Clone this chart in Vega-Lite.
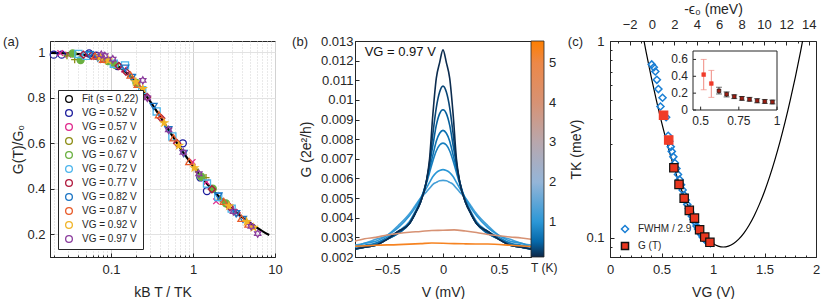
{
"$schema": "https://vega.github.io/schema/vega-lite/v6.json",
"padding": {"left": 2, "top": 1, "right": 0, "bottom": 0},
"spacing": 8,
"config": {
 "font": "Liberation Sans",
 "view": {"stroke": "#262626", "strokeWidth": 1},
 "axis": {"labelFontSize": 13, "titleFontSize": 14, "titleFontWeight": "normal", "labelColor": "#262626", "titleColor": "#262626", "domainColor": "#262626", "tickColor": "#262626", "labelFlush": false, "labelOverlap": false, "tickSize": -4, "labelPadding": 10, "titlePadding": 7, "grid": false, "tickCount": 100},
 "legend": {"labelFont": "Liberation Sans", "titleFont": "Liberation Sans", "labelColor": "#262626", "titleColor": "#262626"}
},
"datasets": {
 "fitA": [
  {"x":0.018,"g":0.998},{"x":0.03,"g":0.9956},{"x":0.05,"g":0.988},{"x":0.07,"g":0.977},{"x":0.1,"g":0.957},{"x":0.15,"g":0.914},{"x":0.2,"g":0.869},{"x":0.3,"g":0.785},{"x":0.4,"g":0.716},{"x":0.5,"g":0.661},{"x":0.7,"g":0.579},{"x":1,"g":0.5},{"x":1.5,"g":0.42},{"x":2,"g":0.371},{"x":3,"g":0.311},{"x":4,"g":0.274},{"x":5,"g":0.249},{"x":6,"g":0.229},{"x":7,"g":0.214},{"x":8.5,"g":0.197}
 ],
 "ptsA": [
  {"x":0.020,"g":0.99,"s":"VG = 0.52 V"},{"x":0.025,"g":0.99,"s":"VG = 0.52 V"},{"x":0.054,"g":0.995,"s":"VG = 0.52 V"},{"x":0.066,"g":0.985,"s":"VG = 0.52 V"},{"x":0.12,"g":0.94,"s":"VG = 0.52 V"},{"x":0.75,"g":0.60,"s":"VG = 0.52 V"},{"x":1.23,"g":0.45,"s":"VG = 0.52 V"},{"x":1.48,"g":0.39,"s":"VG = 0.52 V"},
  {"x":0.024,"g":0.997,"s":"VG = 0.57 V"},{"x":0.030,"g":0.99,"s":"VG = 0.57 V"},{"x":0.065,"g":0.98,"s":"VG = 0.57 V"},{"x":0.079,"g":0.965,"s":"VG = 0.57 V"},{"x":0.144,"g":0.925,"s":"VG = 0.57 V"},{"x":0.99,"g":0.518,"s":"VG = 0.57 V"},{"x":1.46,"g":0.43,"s":"VG = 0.57 V"},{"x":1.91,"g":0.345,"s":"VG = 0.57 V"},
  {"x":0.029,"g":0.985,"s":"VG = 0.62 V"},{"x":0.036,"g":0.968,"s":"VG = 0.62 V"},{"x":0.078,"g":0.972,"s":"VG = 0.62 V"},{"x":0.096,"g":0.96,"s":"VG = 0.62 V"},{"x":0.174,"g":0.893,"s":"VG = 0.62 V"},{"x":1.07,"g":0.486,"s":"VG = 0.62 V"},{"x":1.44,"g":0.449,"s":"VG = 0.62 V"},{"x":2.15,"g":0.355,"s":"VG = 0.62 V"},
  {"x":0.034,"g":0.995,"s":"VG = 0.67 V"},{"x":0.0425,"g":0.966,"s":"VG = 0.67 V"},{"x":0.092,"g":0.962,"s":"VG = 0.67 V"},{"x":0.112,"g":0.945,"s":"VG = 0.67 V"},{"x":0.204,"g":0.866,"s":"VG = 0.67 V"},{"x":1.26,"g":0.453,"s":"VG = 0.67 V"},{"x":1.74,"g":0.40,"s":"VG = 0.67 V"},{"x":2.52,"g":0.336,"s":"VG = 0.67 V"},
  {"x":0.040,"g":0.993,"s":"VG = 0.72 V"},{"x":0.050,"g":0.985,"s":"VG = 0.72 V"},{"x":0.108,"g":0.95,"s":"VG = 0.72 V"},{"x":0.148,"g":0.943,"s":"VG = 0.72 V"},{"x":0.24,"g":0.834,"s":"VG = 0.72 V"},{"x":0.36,"g":0.74,"s":"VG = 0.72 V"},{"x":0.56,"g":0.63,"s":"VG = 0.72 V"},{"x":1.48,"g":0.423,"s":"VG = 0.72 V"},{"x":2.03,"g":0.364,"s":"VG = 0.72 V"},{"x":2.96,"g":0.313,"s":"VG = 0.72 V"},
  {"x":0.046,"g":0.99,"s":"VG = 0.77 V"},{"x":0.0575,"g":0.985,"s":"VG = 0.77 V"},{"x":0.124,"g":0.94,"s":"VG = 0.77 V"},{"x":0.152,"g":0.915,"s":"VG = 0.77 V"},{"x":0.276,"g":0.804,"s":"VG = 0.77 V"},{"x":0.41,"g":0.71,"s":"VG = 0.77 V"},{"x":0.64,"g":0.60,"s":"VG = 0.77 V"},{"x":1.70,"g":0.398,"s":"VG = 0.77 V"},{"x":2.81,"g":0.32,"s":"VG = 0.77 V"},{"x":3.40,"g":0.294,"s":"VG = 0.77 V"},
  {"x":0.055,"g":0.99,"s":"VG = 0.82 V"},{"x":0.069,"g":0.975,"s":"VG = 0.82 V"},{"x":0.149,"g":0.93,"s":"VG = 0.82 V"},{"x":0.18,"g":0.89,"s":"VG = 0.82 V"},{"x":0.33,"g":0.762,"s":"VG = 0.82 V"},{"x":0.50,"g":0.66,"s":"VG = 0.82 V"},{"x":0.77,"g":0.555,"s":"VG = 0.82 V"},{"x":2.04,"g":0.368,"s":"VG = 0.82 V"},{"x":3.36,"g":0.29,"s":"VG = 0.82 V"},{"x":4.07,"g":0.265,"s":"VG = 0.82 V"},
  {"x":0.064,"g":0.985,"s":"VG = 0.87 V"},{"x":0.080,"g":0.97,"s":"VG = 0.87 V"},{"x":0.173,"g":0.9,"s":"VG = 0.87 V"},{"x":0.211,"g":0.86,"s":"VG = 0.87 V"},{"x":0.384,"g":0.726,"s":"VG = 0.87 V"},{"x":0.58,"g":0.624,"s":"VG = 0.87 V"},{"x":0.90,"g":0.52,"s":"VG = 0.87 V"},{"x":2.37,"g":0.345,"s":"VG = 0.87 V"},{"x":3.90,"g":0.27,"s":"VG = 0.87 V"},{"x":4.74,"g":0.245,"s":"VG = 0.87 V"},
  {"x":0.074,"g":0.98,"s":"VG = 0.92 V"},{"x":0.0925,"g":0.965,"s":"VG = 0.92 V"},{"x":0.20,"g":0.87,"s":"VG = 0.92 V"},{"x":0.244,"g":0.84,"s":"VG = 0.92 V"},{"x":0.444,"g":0.69,"s":"VG = 0.92 V"},{"x":0.67,"g":0.59,"s":"VG = 0.92 V"},{"x":1.04,"g":0.492,"s":"VG = 0.92 V"},{"x":2.74,"g":0.324,"s":"VG = 0.92 V"},{"x":4.51,"g":0.255,"s":"VG = 0.92 V"},{"x":5.48,"g":0.23,"s":"VG = 0.92 V"},
  {"x":0.076,"g":0.99,"s":"VG = 0.97 V"},{"x":0.084,"g":0.985,"s":"VG = 0.97 V"},{"x":0.105,"g":0.97,"s":"VG = 0.97 V"},{"x":0.244,"g":0.877,"s":"VG = 0.97 V"},{"x":0.277,"g":0.80,"s":"VG = 0.97 V"},{"x":0.504,"g":0.659,"s":"VG = 0.97 V"},{"x":0.76,"g":0.56,"s":"VG = 0.97 V"},{"x":1.18,"g":0.466,"s":"VG = 0.97 V"},{"x":3.11,"g":0.30,"s":"VG = 0.97 V"},{"x":5.12,"g":0.235,"s":"VG = 0.97 V"},{"x":6.15,"g":0.203,"s":"VG = 0.97 V"}
 ],
 "curvesB": [
  {"V":-0.79,"G":0.0026,"T":1.25},{"V":-0.7,"G":0.0027,"T":1.25},{"V":-0.6,"G":0.0029,"T":1.25},{"V":-0.5,"G":0.0031,"T":1.25},{"V":-0.4,"G":0.0036,"T":1.25},{"V":-0.3,"G":0.0042,"T":1.25},{"V":-0.25,"G":0.0046,"T":1.25},{"V":-0.2,"G":0.0050,"T":1.25},{"V":-0.15,"G":0.0053,"T":1.25},{"V":-0.12,"G":0.0055,"T":1.25},{"V":-0.09,"G":0.0057,"T":1.25},{"V":-0.06,"G":0.0058,"T":1.25},{"V":-0.03,"G":0.00588,"T":1.25},{"V":0,"G":0.0059,"T":1.25},{"V":0.03,"G":0.00588,"T":1.25},{"V":0.06,"G":0.0058,"T":1.25},{"V":0.09,"G":0.0057,"T":1.25},{"V":0.12,"G":0.0055,"T":1.25},{"V":0.15,"G":0.0053,"T":1.25},{"V":0.2,"G":0.0050,"T":1.25},{"V":0.25,"G":0.0046,"T":1.25},{"V":0.3,"G":0.0042,"T":1.25},{"V":0.4,"G":0.0036,"T":1.25},{"V":0.5,"G":0.0031,"T":1.25},{"V":0.6,"G":0.0029,"T":1.25},{"V":0.7,"G":0.0027,"T":1.25},{"V":0.79,"G":0.0026,"T":1.25},
  {"V":-0.79,"G":0.0025,"T":1.0},{"V":-0.7,"G":0.0027,"T":1.0},{"V":-0.6,"G":0.0028,"T":1.0},{"V":-0.5,"G":0.0031,"T":1.0},{"V":-0.4,"G":0.0035,"T":1.0},{"V":-0.3,"G":0.0041,"T":1.0},{"V":-0.25,"G":0.0045,"T":1.0},{"V":-0.2,"G":0.0050,"T":1.0},{"V":-0.15,"G":0.0055,"T":1.0},{"V":-0.12,"G":0.0058,"T":1.0},{"V":-0.09,"G":0.0061,"T":1.0},{"V":-0.06,"G":0.0063,"T":1.0},{"V":-0.03,"G":0.0064,"T":1.0},{"V":0,"G":0.00645,"T":1.0},{"V":0.03,"G":0.0064,"T":1.0},{"V":0.06,"G":0.0063,"T":1.0},{"V":0.09,"G":0.0061,"T":1.0},{"V":0.12,"G":0.0058,"T":1.0},{"V":0.15,"G":0.0055,"T":1.0},{"V":0.2,"G":0.0050,"T":1.0},{"V":0.25,"G":0.0045,"T":1.0},{"V":0.3,"G":0.0041,"T":1.0},{"V":0.4,"G":0.0035,"T":1.0},{"V":0.5,"G":0.0031,"T":1.0},{"V":0.6,"G":0.0028,"T":1.0},{"V":0.7,"G":0.0027,"T":1.0},{"V":0.79,"G":0.0025,"T":1.0},
  {"V":-0.79,"G":0.0025,"T":0.75},{"V":-0.7,"G":0.0026,"T":0.75},{"V":-0.6,"G":0.0027,"T":0.75},{"V":-0.5,"G":0.0030,"T":0.75},{"V":-0.4,"G":0.0033,"T":0.75},{"V":-0.3,"G":0.0038,"T":0.75},{"V":-0.25,"G":0.0043,"T":0.75},{"V":-0.2,"G":0.0049,"T":0.75},{"V":-0.15,"G":0.0057,"T":0.75},{"V":-0.12,"G":0.0063,"T":0.75},{"V":-0.09,"G":0.0069,"T":0.75},{"V":-0.06,"G":0.0074,"T":0.75},{"V":-0.03,"G":0.0077,"T":0.75},{"V":0,"G":0.0078,"T":0.75},{"V":0.03,"G":0.0077,"T":0.75},{"V":0.06,"G":0.0074,"T":0.75},{"V":0.09,"G":0.0069,"T":0.75},{"V":0.12,"G":0.0063,"T":0.75},{"V":0.15,"G":0.0057,"T":0.75},{"V":0.2,"G":0.0049,"T":0.75},{"V":0.25,"G":0.0043,"T":0.75},{"V":0.3,"G":0.0038,"T":0.75},{"V":0.4,"G":0.0033,"T":0.75},{"V":0.5,"G":0.0030,"T":0.75},{"V":0.6,"G":0.0027,"T":0.75},{"V":0.7,"G":0.0026,"T":0.75},{"V":0.79,"G":0.0025,"T":0.75},
  {"V":-0.79,"G":0.0024,"T":0.6},{"V":-0.7,"G":0.0025,"T":0.6},{"V":-0.6,"G":0.0027,"T":0.6},{"V":-0.5,"G":0.0029,"T":0.6},{"V":-0.4,"G":0.0032,"T":0.6},{"V":-0.3,"G":0.0037,"T":0.6},{"V":-0.25,"G":0.0042,"T":0.6},{"V":-0.2,"G":0.0049,"T":0.6},{"V":-0.15,"G":0.0058,"T":0.6},{"V":-0.12,"G":0.0065,"T":0.6},{"V":-0.09,"G":0.0072,"T":0.6},{"V":-0.06,"G":0.0079,"T":0.6},{"V":-0.03,"G":0.0083,"T":0.6},{"V":0,"G":0.00845,"T":0.6},{"V":0.03,"G":0.0083,"T":0.6},{"V":0.06,"G":0.0079,"T":0.6},{"V":0.09,"G":0.0072,"T":0.6},{"V":0.12,"G":0.0065,"T":0.6},{"V":0.15,"G":0.0058,"T":0.6},{"V":0.2,"G":0.0049,"T":0.6},{"V":0.25,"G":0.0042,"T":0.6},{"V":0.3,"G":0.0037,"T":0.6},{"V":0.4,"G":0.0032,"T":0.6},{"V":0.5,"G":0.0029,"T":0.6},{"V":0.6,"G":0.0027,"T":0.6},{"V":0.7,"G":0.0025,"T":0.6},{"V":0.79,"G":0.0024,"T":0.6},
  {"V":-0.79,"G":0.0024,"T":0.45},{"V":-0.7,"G":0.0025,"T":0.45},{"V":-0.6,"G":0.0026,"T":0.45},{"V":-0.5,"G":0.0029,"T":0.45},{"V":-0.4,"G":0.0032,"T":0.45},{"V":-0.3,"G":0.0037,"T":0.45},{"V":-0.25,"G":0.0042,"T":0.45},{"V":-0.2,"G":0.0048,"T":0.45},{"V":-0.15,"G":0.0058,"T":0.45},{"V":-0.12,"G":0.0067,"T":0.45},{"V":-0.09,"G":0.0077,"T":0.45},{"V":-0.06,"G":0.0087,"T":0.45},{"V":-0.03,"G":0.0093,"T":0.45},{"V":0,"G":0.0095,"T":0.45},{"V":0.03,"G":0.0093,"T":0.45},{"V":0.06,"G":0.0087,"T":0.45},{"V":0.09,"G":0.0077,"T":0.45},{"V":0.12,"G":0.0067,"T":0.45},{"V":0.15,"G":0.0058,"T":0.45},{"V":0.2,"G":0.0048,"T":0.45},{"V":0.25,"G":0.0042,"T":0.45},{"V":0.3,"G":0.0037,"T":0.45},{"V":0.4,"G":0.0032,"T":0.45},{"V":0.5,"G":0.0029,"T":0.45},{"V":0.6,"G":0.0026,"T":0.45},{"V":0.7,"G":0.0025,"T":0.45},{"V":0.79,"G":0.0024,"T":0.45},
  {"V":-0.79,"G":0.0024,"T":0.3},{"V":-0.7,"G":0.0025,"T":0.3},{"V":-0.6,"G":0.0026,"T":0.3},{"V":-0.5,"G":0.0029,"T":0.3},{"V":-0.4,"G":0.0033,"T":0.3},{"V":-0.3,"G":0.0037,"T":0.3},{"V":-0.25,"G":0.0042,"T":0.3},{"V":-0.2,"G":0.0048,"T":0.3},{"V":-0.15,"G":0.0058,"T":0.3},{"V":-0.12,"G":0.0068,"T":0.3},{"V":-0.09,"G":0.0083,"T":0.3},{"V":-0.06,"G":0.0096,"T":0.3},{"V":-0.03,"G":0.0104,"T":0.3},{"V":0,"G":0.0107,"T":0.3},{"V":0.03,"G":0.0104,"T":0.3},{"V":0.06,"G":0.0096,"T":0.3},{"V":0.09,"G":0.0083,"T":0.3},{"V":0.12,"G":0.0068,"T":0.3},{"V":0.15,"G":0.0058,"T":0.3},{"V":0.2,"G":0.0048,"T":0.3},{"V":0.25,"G":0.0042,"T":0.3},{"V":0.3,"G":0.0037,"T":0.3},{"V":0.4,"G":0.0033,"T":0.3},{"V":0.5,"G":0.0029,"T":0.3},{"V":0.6,"G":0.0026,"T":0.3},{"V":0.7,"G":0.0025,"T":0.3},{"V":0.79,"G":0.0024,"T":0.3},
  {"V":-0.79,"G":0.0024,"T":0.15},{"V":-0.7,"G":0.0025,"T":0.15},{"V":-0.6,"G":0.0026,"T":0.15},{"V":-0.5,"G":0.0029,"T":0.15},{"V":-0.4,"G":0.0033,"T":0.15},{"V":-0.3,"G":0.0037,"T":0.15},{"V":-0.25,"G":0.0042,"T":0.15},{"V":-0.2,"G":0.0048,"T":0.15},{"V":-0.15,"G":0.0058,"T":0.15},{"V":-0.12,"G":0.0070,"T":0.15},{"V":-0.09,"G":0.0093,"T":0.15},{"V":-0.06,"G":0.0111,"T":0.15},{"V":-0.03,"G":0.0119,"T":0.15},{"V":0,"G":0.01255,"T":0.15},{"V":0.03,"G":0.0119,"T":0.15},{"V":0.06,"G":0.0111,"T":0.15},{"V":0.09,"G":0.0093,"T":0.15},{"V":0.12,"G":0.0070,"T":0.15},{"V":0.15,"G":0.0058,"T":0.15},{"V":0.2,"G":0.0048,"T":0.15},{"V":0.25,"G":0.0042,"T":0.15},{"V":0.3,"G":0.0037,"T":0.15},{"V":0.4,"G":0.0033,"T":0.15},{"V":0.5,"G":0.0029,"T":0.15},{"V":0.6,"G":0.0026,"T":0.15},{"V":0.7,"G":0.0025,"T":0.15},{"V":0.79,"G":0.0024,"T":0.15},
  {"V":-0.79,"G":0.0028,"T":4.0},{"V":-0.7,"G":0.00293,"T":4.0},{"V":-0.6,"G":0.0030,"T":4.0},{"V":-0.5,"G":0.00312,"T":4.0},{"V":-0.4,"G":0.0032,"T":4.0},{"V":-0.3,"G":0.00326,"T":4.0},{"V":-0.2,"G":0.0033,"T":4.0},{"V":-0.1,"G":0.00335,"T":4.0},{"V":0,"G":0.00336,"T":4.0},{"V":0.1,"G":0.00338,"T":4.0},{"V":0.2,"G":0.00332,"T":4.0},{"V":0.3,"G":0.00325,"T":4.0},{"V":0.4,"G":0.00315,"T":4.0},{"V":0.5,"G":0.00308,"T":4.0},{"V":0.6,"G":0.00302,"T":4.0},{"V":0.7,"G":0.00297,"T":4.0},{"V":0.79,"G":0.0029,"T":4.0},
  {"V":-0.79,"G":0.00255,"T":5.3},{"V":-0.6,"G":0.0026,"T":5.3},{"V":-0.4,"G":0.00263,"T":5.3},{"V":-0.2,"G":0.00268,"T":5.3},{"V":-0.1,"G":0.00271,"T":5.3},{"V":0,"G":0.0027,"T":5.3},{"V":0.1,"G":0.00268,"T":5.3},{"V":0.2,"G":0.00267,"T":5.3},{"V":0.4,"G":0.00266,"T":5.3},{"V":0.6,"G":0.0026,"T":5.3},{"V":0.79,"G":0.00253,"T":5.3}
 ],
 "tkC": [
  {"vg":0.30,"tk":1.211},{"vg":0.35,"tk":0.884},{"vg":0.40,"tk":0.658},{"vg":0.45,"tk":0.5005},{"vg":0.50,"tk":0.388},{"vg":0.55,"tk":0.3074},{"vg":0.60,"tk":0.2483},{"vg":0.65,"tk":0.2047},{"vg":0.70,"tk":0.1722},{"vg":0.75,"tk":0.148},{"vg":0.80,"tk":0.1297},{"vg":0.85,"tk":0.116},{"vg":0.90,"tk":0.1058},{"vg":0.95,"tk":0.0986},{"vg":1.00,"tk":0.0937},{"vg":1.05,"tk":0.0909},{"vg":1.10,"tk":0.0899},{"vg":1.15,"tk":0.0909},{"vg":1.20,"tk":0.0937},{"vg":1.25,"tk":0.0986},{"vg":1.30,"tk":0.1058},{"vg":1.35,"tk":0.116},{"vg":1.40,"tk":0.1297},{"vg":1.45,"tk":0.148},{"vg":1.50,"tk":0.1722},{"vg":1.55,"tk":0.2047},{"vg":1.60,"tk":0.2483},{"vg":1.65,"tk":0.3074},{"vg":1.70,"tk":0.388},{"vg":1.75,"tk":0.5005},{"vg":1.80,"tk":0.658},{"vg":1.85,"tk":0.884},{"vg":1.90,"tk":1.211}
 ],
 "fwhmC": [
  {"vg":0.405,"tk":0.76,"kind":"FWHM / 2.9"},{"vg":0.425,"tk":0.735,"kind":"FWHM / 2.9"},{"vg":0.44,"tk":0.70,"kind":"FWHM / 2.9"},{"vg":0.455,"tk":0.635,"kind":"FWHM / 2.9"},{"vg":0.47,"tk":0.57,"kind":"FWHM / 2.9"},{"vg":0.51,"tk":0.515,"kind":"FWHM / 2.9"},{"vg":0.49,"tk":0.465,"kind":"FWHM / 2.9"},{"vg":0.545,"tk":0.41,"kind":"FWHM / 2.9"},{"vg":0.565,"tk":0.33,"kind":"FWHM / 2.9"},{"vg":0.575,"tk":0.31,"kind":"FWHM / 2.9"},{"vg":0.59,"tk":0.29,"kind":"FWHM / 2.9"},{"vg":0.60,"tk":0.275,"kind":"FWHM / 2.9"},{"vg":0.615,"tk":0.258,"kind":"FWHM / 2.9"},{"vg":0.63,"tk":0.24,"kind":"FWHM / 2.9"},{"vg":0.645,"tk":0.225,"kind":"FWHM / 2.9"},{"vg":0.66,"tk":0.21,"kind":"FWHM / 2.9"},{"vg":0.675,"tk":0.198,"kind":"FWHM / 2.9"},{"vg":0.69,"tk":0.186,"kind":"FWHM / 2.9"},{"vg":0.705,"tk":0.175,"kind":"FWHM / 2.9"},{"vg":0.72,"tk":0.165,"kind":"FWHM / 2.9"},{"vg":0.735,"tk":0.156,"kind":"FWHM / 2.9"},{"vg":0.75,"tk":0.148,"kind":"FWHM / 2.9"},{"vg":0.765,"tk":0.141,"kind":"FWHM / 2.9"},{"vg":0.78,"tk":0.135,"kind":"FWHM / 2.9"},{"vg":0.795,"tk":0.129,"kind":"FWHM / 2.9"},{"vg":0.81,"tk":0.124,"kind":"FWHM / 2.9"},{"vg":0.825,"tk":0.12,"kind":"FWHM / 2.9"},{"vg":0.84,"tk":0.115,"kind":"FWHM / 2.9"},{"vg":0.855,"tk":0.111,"kind":"FWHM / 2.9"},{"vg":0.87,"tk":0.107,"kind":"FWHM / 2.9"},{"vg":0.885,"tk":0.104,"kind":"FWHM / 2.9"},{"vg":0.90,"tk":0.101,"kind":"FWHM / 2.9"},{"vg":0.915,"tk":0.099,"kind":"FWHM / 2.9"},{"vg":0.93,"tk":0.097,"kind":"FWHM / 2.9"},{"vg":0.945,"tk":0.096,"kind":"FWHM / 2.9"},{"vg":0.96,"tk":0.095,"kind":"FWHM / 2.9"},{"vg":0.975,"tk":0.094,"kind":"FWHM / 2.9"}
 ],
 "gtC": [
  {"vg":0.52,"tk":0.42,"kind":"G (T)*"},{"vg":0.57,"tk":0.314,"kind":"G (T)*"},{"vg":0.62,"tk":0.227,"kind":"G (T)"},{"vg":0.67,"tk":0.187,"kind":"G (T)"},{"vg":0.72,"tk":0.159,"kind":"G (T)"},{"vg":0.77,"tk":0.138,"kind":"G (T)"},{"vg":0.82,"tk":0.126,"kind":"G (T)"},{"vg":0.87,"tk":0.11,"kind":"G (T)"},{"vg":0.92,"tk":0.101,"kind":"G (T)"},{"vg":0.97,"tk":0.095,"kind":"G (T)"}
 ],
 "insetC": [
  {"vg":0.52,"tk":0.42,"lo":0.24,"hi":0.60,"grp":"a"},{"vg":0.57,"tk":0.314,"lo":0.15,"hi":0.47,"grp":"a"},{"vg":0.62,"tk":0.227,"lo":0.19,"hi":0.27,"grp":"b"},{"vg":0.67,"tk":0.187,"lo":0.155,"hi":0.215,"grp":"b"},{"vg":0.72,"tk":0.159,"lo":0.135,"hi":0.18,"grp":"b"},{"vg":0.77,"tk":0.138,"lo":0.115,"hi":0.16,"grp":"b"},{"vg":0.82,"tk":0.126,"lo":0.105,"hi":0.15,"grp":"b"},{"vg":0.87,"tk":0.11,"lo":0.085,"hi":0.135,"grp":"b"},{"vg":0.92,"tk":0.101,"lo":0.078,"hi":0.125,"grp":"b"},{"vg":0.97,"tk":0.095,"lo":0.072,"hi":0.118,"grp":"b"}
 ],
 "insetYT": [{"v": 0, "l": "0"}, {"v": 0.2, "l": "0.2"}, {"v": 0.4, "l": "0.4"}, {"v": 0.6, "l": "0.6"}],
 "insetXT": [{"v": 0.5, "l": "0.5"}, {"v": 0.75, "l": "0.75"}, {"v": 1, "l": "1"}]
},
"hconcat": [
 {
  "width": 225, "height": 216,
  "layer": [
   {
    "data": {"name": "fitA"},
    "mark": {"type": "line", "strokeWidth": 2.2, "interpolate": "monotone", "clip": true, "color": "#000000"},
    "encoding": {
     "x": {"field": "x", "type": "quantitative", "scale": {"type": "log", "domain": [0.018, 10], "nice": false},
      "axis": {"title": "kB T / TK", "labelOverlap": false, "tickCount": 100, "values": [0.02,0.03,0.04,0.05,0.06,0.07,0.08,0.09,0.1,0.2,0.3,0.4,0.5,0.6,0.7,0.8,0.9,1,2,3,4,5,6,7,8,9,10], "format": "~g",
       "labelExpr": "indexof([0.1,1,10], datum.value) >= 0 ? datum.label : ''",
       "grid": true, "gridColor": "#d2d2d2",
       "gridDash": {"condition": {"test": "indexof([0.1,1,10], datum.value) >= 0", "value": []}, "value": [1, 2]},
       "tickSize": {"condition": {"test": "indexof([0.1,1,10], datum.value) >= 0", "value": -4}, "value": -2}}},
     "y": {"field": "g", "type": "quantitative", "scale": {"domain": [0.1, 1.05], "nice": false, "zero": false},
      "axis": {"title": "G(T)/G₀", "labelOverlap": false, "tickCount": 100, "labelPadding": 9, "titlePadding": 1, "values": [0.2, 0.4, 0.6, 0.8, 1], "format": "~g", "grid": true, "gridColor": "#e2e2e2"}}
    }
   },
   {
    "data": {"name": "ptsA"},
    "mark": {"type": "point", "strokeWidth": 1.3, "opacity": 1, "size": 50},
    "encoding": {
     "x": {"field": "x", "type": "quantitative"},
     "y": {"field": "g", "type": "quantitative"},
     "stroke": {"field": "s", "type": "nominal",
      "scale": {"domain": ["Fit (s = 0.22)","VG = 0.52 V","VG = 0.57 V","VG = 0.62 V","VG = 0.67 V","VG = 0.72 V","VG = 0.77 V","VG = 0.82 V","VG = 0.87 V","VG = 0.92 V","VG = 0.97 V"],
       "range": ["#000000","#1c1c9c","#e0288c","#8c8c14","#6ab040","#4ab4ec","#b0183c","#1a74c4","#e85a28","#f0b428","#8a3c9c"]},
      "legend": {"title": null, "orient": "bottom-left", "offset": 8, "strokeColor": "#262626", "fillColor": "#ffffff", "padding": 4, "labelFontSize": 10, "rowPadding": 2, "symbolStrokeWidth": 1.3, "symbolSize": 45, "symbolOffset": 2, "labelOffset": 8, "labelLimit": 200, "symbolFillColor": "transparent"}},
     "fill": {"field": "s", "type": "nominal", "scale": {"domain": ["Fit (s = 0.22)","VG = 0.52 V","VG = 0.57 V","VG = 0.62 V","VG = 0.67 V","VG = 0.72 V","VG = 0.77 V","VG = 0.82 V","VG = 0.87 V","VG = 0.92 V","VG = 0.97 V"],
       "range": ["transparent","transparent","transparent","transparent","#6ab040","transparent","transparent","transparent","transparent","#f0b428","transparent"]}},
     "shape": {"field": "s", "type": "nominal", "scale": {"domain": ["Fit (s = 0.22)","VG = 0.52 V","VG = 0.57 V","VG = 0.62 V","VG = 0.67 V","VG = 0.72 V","VG = 0.77 V","VG = 0.82 V","VG = 0.87 V","VG = 0.92 V","VG = 0.97 V"],
       "range": ["M-2.3,0L2.3,0","circle","M-0.8,-0.8L0.8,0.8M-0.8,0.8L0.8,-0.8","M-1,0L1,0M0,-1L0,1","circle","square","diamond","triangle-down","triangle-up","M0,-1L0.235,-0.324L0.951,-0.309L0.38,0.124L0.588,0.809L0,0.4L-0.588,0.809L-0.38,0.124L-0.951,-0.309L-0.235,-0.324Z","M0,-1L0.289,-0.5L0.866,-0.5L0.577,0L0.866,0.5L0.289,0.5L0,1L-0.289,0.5L-0.866,0.5L-0.577,0L-0.866,-0.5L-0.289,-0.5Z"]}}
    }
   },
   {
    "data": {"values": [{"x": 0.018, "g": 1.05, "t": "(a)"}]},
    "mark": {"type": "text", "align": "right", "baseline": "middle", "dx": -31, "dy": 1, "fontSize": 13, "color": "#262626"},
    "encoding": {"x": {"field": "x", "type": "quantitative"}, "y": {"field": "g", "type": "quantitative"}, "text": {"field": "t"}}
   }
  ]
 },
 {
  "width": 176, "height": 216,
  "layer": [
   {
    "data": {"name": "curvesB"},
    "mark": {"type": "line", "strokeWidth": 1.6, "clip": true, "interpolate": "monotone"},
    "encoding": {
     "x": {"field": "V", "type": "quantitative", "scale": {"domain": [-0.786, 0.786], "nice": false, "zero": false},
      "axis": {"title": "V (mV)", "labelOverlap": false, "tickCount": 100, "values": [-0.7,-0.6,-0.5,-0.4,-0.3,-0.2,-0.1,0,0.1,0.2,0.3,0.4,0.5,0.6,0.7], "format": "~g",
       "labelExpr": "abs(datum.value) == 0.5 || datum.value == 0 ? datum.label : ''",
       "tickSize": {"condition": {"test": "abs(datum.value) == 0.5 || datum.value == 0", "value": -4}, "value": -2}}},
     "y": {"field": "G", "type": "quantitative", "scale": {"domain": [0.002, 0.013], "nice": false, "zero": false},
      "axis": {"title": "G (2e²/h)", "labelOverlap": false, "tickCount": 100, "labelPadding": 6, "values": [0.002,0.003,0.004,0.005,0.006,0.007,0.008,0.009,0.01,0.011,0.012,0.013], "format": ".3~f"}},
     "stroke": {"field": "T", "type": "quantitative",
      "scale": {"domain": [0.12, 0.5, 1, 2, 3, 4, 5, 5.55], "range": ["#0d2747", "#0567a8", "#2b97d6", "#94b5d8", "#b8a7ad", "#d79274", "#ec8848", "#ff7f00"], "interpolate": "rgb"},
      "legend": {"title": "T (K)", "orient": "right", "direction": "vertical", "gradientLength": 216, "gradientThickness": 13, "values": [1, 2, 3, 4, 5], "titleOrient": "bottom", "offset": 0, "labelFontSize": 13, "titleFontSize": 12, "titleFontWeight": "normal", "gradientStrokeColor": "#262626", "gradientStrokeWidth": 0.8, "labelOffset": 5, "titlePadding": 6}},
     "detail": {"field": "T", "type": "nominal"}
    }
   },
   {
    "data": {"values": [{"V": -0.7, "G": 0.01245, "t": "VG = 0.97 V"}]},
    "mark": {"type": "text", "align": "left", "baseline": "middle", "fontSize": 13, "color": "#111111"},
    "encoding": {"x": {"field": "V", "type": "quantitative"}, "y": {"field": "G", "type": "quantitative"}, "text": {"field": "t"}}
   },
   {
    "data": {"values": [{"V": -0.786, "G": 0.013, "t": "(b)"}]},
    "mark": {"type": "text", "align": "right", "baseline": "middle", "dx": -47, "dy": 1, "fontSize": 13, "color": "#262626"},
    "encoding": {"x": {"field": "V", "type": "quantitative"}, "y": {"field": "G", "type": "quantitative"}, "text": {"field": "t"}}
   }
  ]
 },
 {
  "width": 206, "height": 216,
  "resolve": {"scale": {"x": "independent", "y": "independent", "stroke": "independent", "fill": "independent", "color": "independent", "shape": "independent"}},
  "layer": [
   {
    "layer": [
     {
      "data": {"name": "tkC"},
      "mark": {"type": "line", "color": "#000000", "strokeWidth": 1.2, "clip": true, "interpolate": "monotone"},
      "encoding": {
       "x": {"field": "vg", "type": "quantitative", "scale": {"domain": [0, 2], "nice": false, "zero": false},
        "axis": {"orient": "bottom", "title": "VG (V)", "labelOverlap": false, "tickCount": 100, "values": [0,0.1,0.2,0.3,0.4,0.5,0.6,0.7,0.8,0.9,1,1.1,1.2,1.3,1.4,1.5,1.6,1.7,1.8,1.9,2], "format": "~g",
         "labelExpr": "indexof([0,0.5,1,1.5,2], datum.value) >= 0 ? datum.label : ''",
         "tickSize": {"condition": {"test": "indexof([0,0.5,1,1.5,2], datum.value) >= 0", "value": -4}, "value": -2}}},
       "y": {"field": "tk", "type": "quantitative", "scale": {"type": "log", "domain": [0.08, 1], "nice": false},
        "axis": {"orient": "left", "title": "TK (meV)", "labelOverlap": false, "tickCount": 100, "labelPadding": 10, "titlePadding": 2, "values": [0.08,0.09,0.1,0.2,0.3,0.4,0.5,0.6,0.7,0.8,0.9,1], "format": "~g",
         "labelExpr": "datum.value == 0.1 || datum.value == 1 ? datum.label : ''",
         "tickSize": {"condition": {"test": "datum.value == 0.1 || datum.value == 1", "value": -4}, "value": -2}}}
      }
     },
     {
      "data": {"name": "fwhmC"},
      "mark": {"type": "point", "size": 50, "strokeWidth": 1.5, "opacity": 1},
      "encoding": {
       "x": {"field": "vg", "type": "quantitative"},
       "y": {"field": "tk", "type": "quantitative"},
       "stroke": {"field": "kind", "type": "nominal", "scale": {"domain": ["FWHM / 2.9", "G (T)", "G (T)*"], "range": ["#1a7fd4", "#111111", "#f03c28"]},
        "legend": {"title": null, "orient": "bottom-left", "offset": 0, "padding": 4, "values": ["FWHM / 2.9", "G (T)"], "labelFontSize": 10, "rowPadding": 3, "symbolStrokeWidth": 1.5, "symbolSize": 50, "symbolOffset": 6, "labelOffset": 8}},
       "fill": {"field": "kind", "type": "nominal", "scale": {"domain": ["FWHM / 2.9", "G (T)", "G (T)*"], "range": ["transparent", "#e8361f", "#f03c28"]}},
       "shape": {"field": "kind", "type": "nominal", "scale": {"domain": ["FWHM / 2.9", "G (T)", "G (T)*"], "range": ["diamond", "square", "square"]}}
      }
     },
     {
      "data": {"name": "gtC"},
      "mark": {"type": "point", "size": 70, "strokeWidth": 1.2, "opacity": 1},
      "encoding": {
       "x": {"field": "vg", "type": "quantitative"},
       "y": {"field": "tk", "type": "quantitative"},
       "stroke": {"field": "kind", "type": "nominal"},
       "fill": {"field": "kind", "type": "nominal"},
       "shape": {"field": "kind", "type": "nominal"}
      }
     },
     {
      "data": {"values": [{"vg": 0, "tk": 1, "t": "(c)"}]},
      "mark": {"type": "text", "align": "right", "baseline": "middle", "dx": -27, "dy": 1, "fontSize": 13, "color": "#262626"},
      "encoding": {"x": {"field": "vg", "type": "quantitative"}, "y": {"field": "tk", "type": "quantitative"}, "text": {"field": "t"}}
     }
    ]
   },
   {
    "data": {"values": [{"e": -3.75}, {"e": 14.65}]},
    "mark": {"type": "point", "opacity": 0},
    "encoding": {
     "x": {"field": "e", "type": "quantitative", "scale": {"domain": [-3.75, 14.65], "nice": false, "zero": false},
      "axis": {"orient": "top", "title": "-ϵ₀ (meV)", "labelOverlap": false, "tickCount": 100, "labelPadding": 14, "titlePadding": 0, "values": [-3,-2,-1,0,1,2,3,4,5,6,7,8,9,10,11,12,13,14], "format": "~g",
       "labelExpr": "datum.value % 2 == 0 ? datum.label : ''",
       "tickSize": {"condition": {"test": "datum.value % 2 == 0", "value": -4}, "value": -2}}}
    }
   },
   {
    "layer": [
     {
      "data": {"values": [{"a": 0.45, "b": 1.0, "c": 0, "d": 0.7}]},
      "mark": {"type": "rect", "fill": "#ffffff", "stroke": "#262626", "strokeWidth": 1},
      "encoding": {
       "x": {"field": "a", "type": "quantitative", "scale": {"domain": [0.45, 1.0], "range": [83, 167], "nice": false, "zero": false}, "axis": null},
       "x2": {"field": "b"},
       "y": {"field": "c", "type": "quantitative", "scale": {"domain": [0, 0.7], "range": [69, 10], "nice": false, "zero": false}, "axis": null},
       "y2": {"field": "d"}
      }
     },
     {
      "data": {"name": "insetYT"},
      "mark": {"type": "rule", "color": "#262626", "strokeWidth": 1},
      "encoding": {
       "x": {"datum": 0.45, "type": "quantitative", "axis": null},
       "x2": {"datum": 0.47},
       "y": {"field": "v", "type": "quantitative", "axis": null}
      }
     },
     {
      "data": {"name": "insetYT"},
      "mark": {"type": "text", "align": "right", "baseline": "middle", "dx": -5, "fontSize": 12, "color": "#262626"},
      "encoding": {
       "x": {"datum": 0.45, "type": "quantitative", "axis": null},
       "y": {"field": "v", "type": "quantitative", "axis": null},
       "text": {"field": "l"}
      }
     },
     {
      "data": {"name": "insetXT"},
      "mark": {"type": "rule", "color": "#262626", "strokeWidth": 1},
      "encoding": {
       "x": {"field": "v", "type": "quantitative", "axis": null},
       "y": {"datum": 0, "type": "quantitative", "axis": null},
       "y2": {"datum": 0.04}
      }
     },
     {
      "data": {"name": "insetXT"},
      "mark": {"type": "text", "align": "center", "baseline": "top", "dy": 6, "fontSize": 12, "color": "#262626"},
      "encoding": {
       "x": {"field": "v", "type": "quantitative", "axis": null},
       "y": {"datum": 0, "type": "quantitative", "axis": null},
       "text": {"field": "l"}
      }
     },
     {
      "data": {"name": "insetC"},
      "mark": {"type": "rule", "strokeWidth": 1},
      "encoding": {
       "x": {"field": "vg", "type": "quantitative", "axis": null},
       "y": {"field": "lo", "type": "quantitative", "axis": null},
       "y2": {"field": "hi"},
       "color": {"field": "grp", "type": "nominal", "scale": {"domain": ["a", "b"], "range": ["#f08a80", "#333333"]}, "legend": null}
      }
     },
     {
      "data": {"name": "insetC"},
      "mark": {"type": "tick", "orient": "horizontal", "size": 6, "thickness": 1},
      "encoding": {
       "x": {"field": "vg", "type": "quantitative", "axis": null},
       "y": {"field": "lo", "type": "quantitative", "axis": null},
       "color": {"field": "grp", "type": "nominal", "legend": null}
      }
     },
     {
      "data": {"name": "insetC"},
      "mark": {"type": "tick", "orient": "horizontal", "size": 6, "thickness": 1},
      "encoding": {
       "x": {"field": "vg", "type": "quantitative", "axis": null},
       "y": {"field": "hi", "type": "quantitative", "axis": null},
       "color": {"field": "grp", "type": "nominal", "legend": null}
      }
     },
     {
      "data": {"name": "insetC"},
      "mark": {"type": "point", "shape": "square", "size": 14, "strokeWidth": 0.6, "opacity": 1},
      "encoding": {
       "x": {"field": "vg", "type": "quantitative", "axis": null},
       "y": {"field": "tk", "type": "quantitative", "axis": null},
       "fill": {"field": "grp", "type": "nominal", "scale": {"domain": ["a", "b"], "range": ["#f03a2a", "#9c1e12"]}, "legend": null},
       "stroke": {"field": "grp", "type": "nominal", "scale": {"domain": ["a", "b"], "range": ["#f03a2a", "#111111"]}, "legend": null}
      }
     }
    ]
   }
  ]
 }
]
}
